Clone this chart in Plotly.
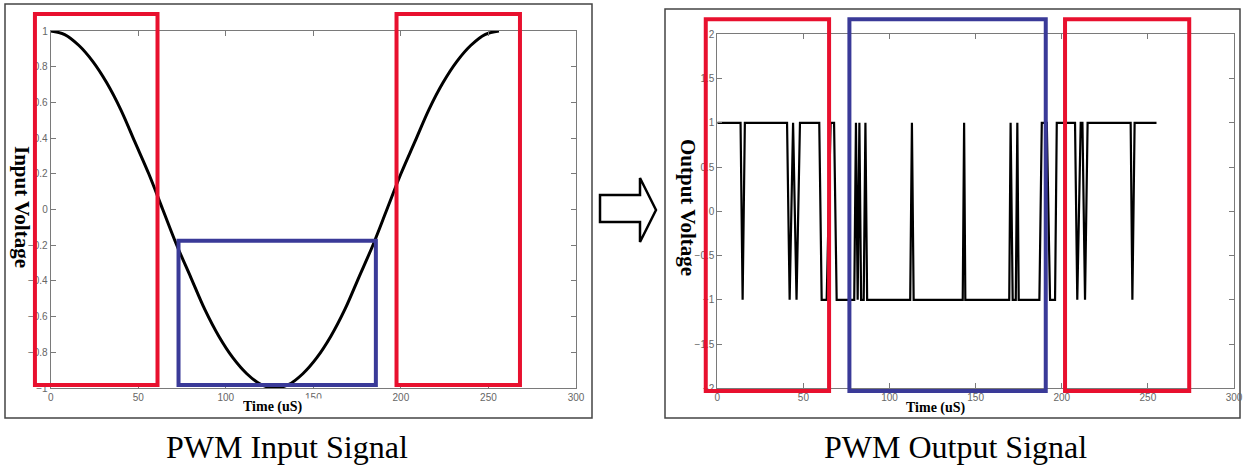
import plotly.graph_objects as go

W, H = 1244, 468

# ---------------- data ----------------
input_time = [0, 8, 16, 24, 32, 40, 48, 56, 64, 72, 80, 88, 96, 104, 112, 120, 128,
              136, 144, 152, 160, 168, 176, 184, 192, 200, 208, 216, 224, 232, 240, 248, 256]
input_voltage = [1.00, 0.98, 0.92, 0.83, 0.71, 0.56, 0.38, 0.20, 0.00, -0.20, -0.38, -0.56,
                 -0.71, -0.83, -0.92, -0.98, -1.00, -0.98, -0.92, -0.83, -0.71, -0.56, -0.38,
                 -0.20, 0.00, 0.20, 0.38, 0.56, 0.71, 0.83, 0.92, 0.98, 1.00]

output_time = [0, 13.5, 14.7, 16, 40.5, 42, 44, 46, 48, 59.2, 60.6, 63.5, 65.8, 67.8, 69.3,
               79.5, 80.5, 81.5, 82.5, 83.5, 85, 86, 87, 112, 113, 114, 142.5, 143.3, 144,
               169.5, 170.3, 171.5, 173.3, 174.2, 175, 187, 188.4, 191.3, 193.2, 196.1, 197.1,
               207.7, 209, 211, 212, 213.5, 215, 240, 241, 242.3, 255]
output_voltage = [1, 1, -1, 1, 1, -1, 1, -1, 1, 1, -1, -1, 1, 1, -1,
                  -1, 1, -1, 1, -1, -1, 1, -1, -1, 1, -1, -1, 1, -1,
                  -1, 1, -1, -1, 1, -1, -1, 1, 1, -1, -1, 1,
                  1, -1, 1, 1, -1, 1, 1, -1, 1, 1]

x_ticks = [0, 50, 100, 150, 200, 250, 300]
input_y_ticks = [1, 0.8, 0.6, 0.4, 0.2, 0, -0.2, -0.4, -0.6, -0.8, -1]
output_y_ticks = [2, 1.5, 1, 0.5, 0, -0.5, -1, -1.5, -2]

x_range = [0, 300]
input_y_range = [-1, 1]
output_y_range = [-2, 2]

# highlight boxes in data units: (x0, x1, y0, y1, colour)
RED = "#e8102e"
BLUE = "#3a3a98"
input_boxes = [(-9, 61, -0.983, 1.095, RED), (73, 185.7, -0.983, -0.175, BLUE),
               (197.5, 268, -0.983, 1.095, RED)]
output_boxes = [(-6.7, 64.9, -2.03, 2.17, RED), (76.7, 190.7, -2.03, 2.17, BLUE),
                (201.9, 274, -2.03, 2.17, RED)]

# ---------------- figure ----------------
fig = go.Figure()

fig.add_trace(go.Scatter(x=input_time, y=input_voltage, mode="lines",
                         line=dict(color="black", width=3, shape="spline"),
                         xaxis="x", yaxis="y", showlegend=False))
fig.add_trace(go.Scatter(x=output_time, y=output_voltage, mode="lines",
                         line=dict(color="black", width=2.2),
                         xaxis="x2", yaxis="y2", showlegend=False))

def px(v):
    return v / W

def py(v):
    return 1 - v / H

axis_common = dict(showline=True, linecolor="#7a7a7a", linewidth=1, mirror="ticks",
                   ticks="inside", ticklen=5, tickcolor="#7a7a7a", showgrid=False,
                   zeroline=False, tickfont=dict(family="Liberation Sans, Arial", size=10, color="#666"))

fig.update_layout(
    width=W, height=H, margin=dict(l=0, r=0, t=0, b=0, autoexpand=False),
    paper_bgcolor="white", plot_bgcolor="white",
    xaxis=dict(domain=[px(50.7), px(576)], range=x_range, tickvals=x_ticks, anchor="y", **axis_common),
    yaxis=dict(domain=[py(388), py(31)], range=input_y_range, tickvals=input_y_ticks, anchor="x", **axis_common),
    xaxis2=dict(domain=[px(717.3), px(1234)], range=x_range, tickvals=x_ticks, anchor="y2", **axis_common),
    yaxis2=dict(domain=[py(388.3), py(34.3)], range=output_y_range, tickvals=output_y_ticks, anchor="x2", **axis_common),
)

shapes = []
# panel frames
shapes.append(dict(type="rect", xref="paper", yref="paper", x0=px(5), x1=px(592), y0=py(418), y1=py(4),
                   line=dict(color="#444", width=1.5), layer="below"))
shapes.append(dict(type="rect", xref="paper", yref="paper", x0=px(665), x1=px(1240), y0=py(418), y1=py(9),
                   line=dict(color="#444", width=1.5), layer="below"))

def add_boxes(boxes, xa, ya, yr):
    for x0, x1, y0, y1, c in boxes:
        shapes.append(dict(type="rect", xref=xa + " domain", yref=ya + " domain",
                           x0=(x0 - x_range[0]) / (x_range[1] - x_range[0]),
                           x1=(x1 - x_range[0]) / (x_range[1] - x_range[0]),
                           y0=(y0 - yr[0]) / (yr[1] - yr[0]),
                           y1=(y1 - yr[0]) / (yr[1] - yr[0]),
                           line=dict(color=c, width=4), layer="above"))

add_boxes(input_boxes, "x", "y", input_y_range)
add_boxes(output_boxes, "x2", "y2", output_y_range)

# hollow arrow
arrow_pts = [(600, 195), (640, 195), (640, 178), (656, 210), (640, 242), (640, 222), (600, 222)]
path = "M " + " L ".join(f"{px(a):.5f},{py(b):.5f}" for a, b in arrow_pts) + " Z"
shapes.append(dict(type="path", xref="paper", yref="paper", path=path,
                   line=dict(color="black", width=2.5), fillcolor="white"))

fig.update_layout(shapes=shapes)

serif = "Liberation Serif, Times New Roman, serif"
ann = []
def add_ann(**kw):
    base = dict(xref="paper", yref="paper", showarrow=False, xanchor="center", yanchor="middle")
    base.update(kw)
    ann.append(base)

add_ann(text="<b>Input Voltage</b>", x=px(22), y=py(207), textangle=90,
        font=dict(family=serif, size=21, color="black"))
add_ann(text="<b>Output Voltage</b>", x=px(688), y=py(207), textangle=90,
        font=dict(family=serif, size=21, color="black"))
add_ann(text="<b>Time (uS)</b>", x=px(242), y=py(407), xanchor="left", width=80, height=16,
        align="left", bgcolor="white", borderpad=0,
        font=dict(family=serif, size=14, color="black"))
add_ann(text="<b>Time (uS)</b>", x=px(936), y=py(408),
        font=dict(family=serif, size=14, color="black"))
add_ann(text="PWM Input Signal", x=px(287), y=py(447),
        font=dict(family=serif, size=32, color="black"))
add_ann(text="PWM Output Signal", x=px(955), y=py(447),
        font=dict(family=serif, size=32, color="black"))
fig.update_layout(annotations=ann)

fig.write_html(
    "out.html",
    config={"displayModeBar": False},
    post_script=("document.documentElement.style.margin='0';"
                 "document.documentElement.style.overflow='hidden';"
                 "document.body.style.margin='0';document.body.style.padding='0';"
                 "document.body.style.overflow='hidden';"),
)
